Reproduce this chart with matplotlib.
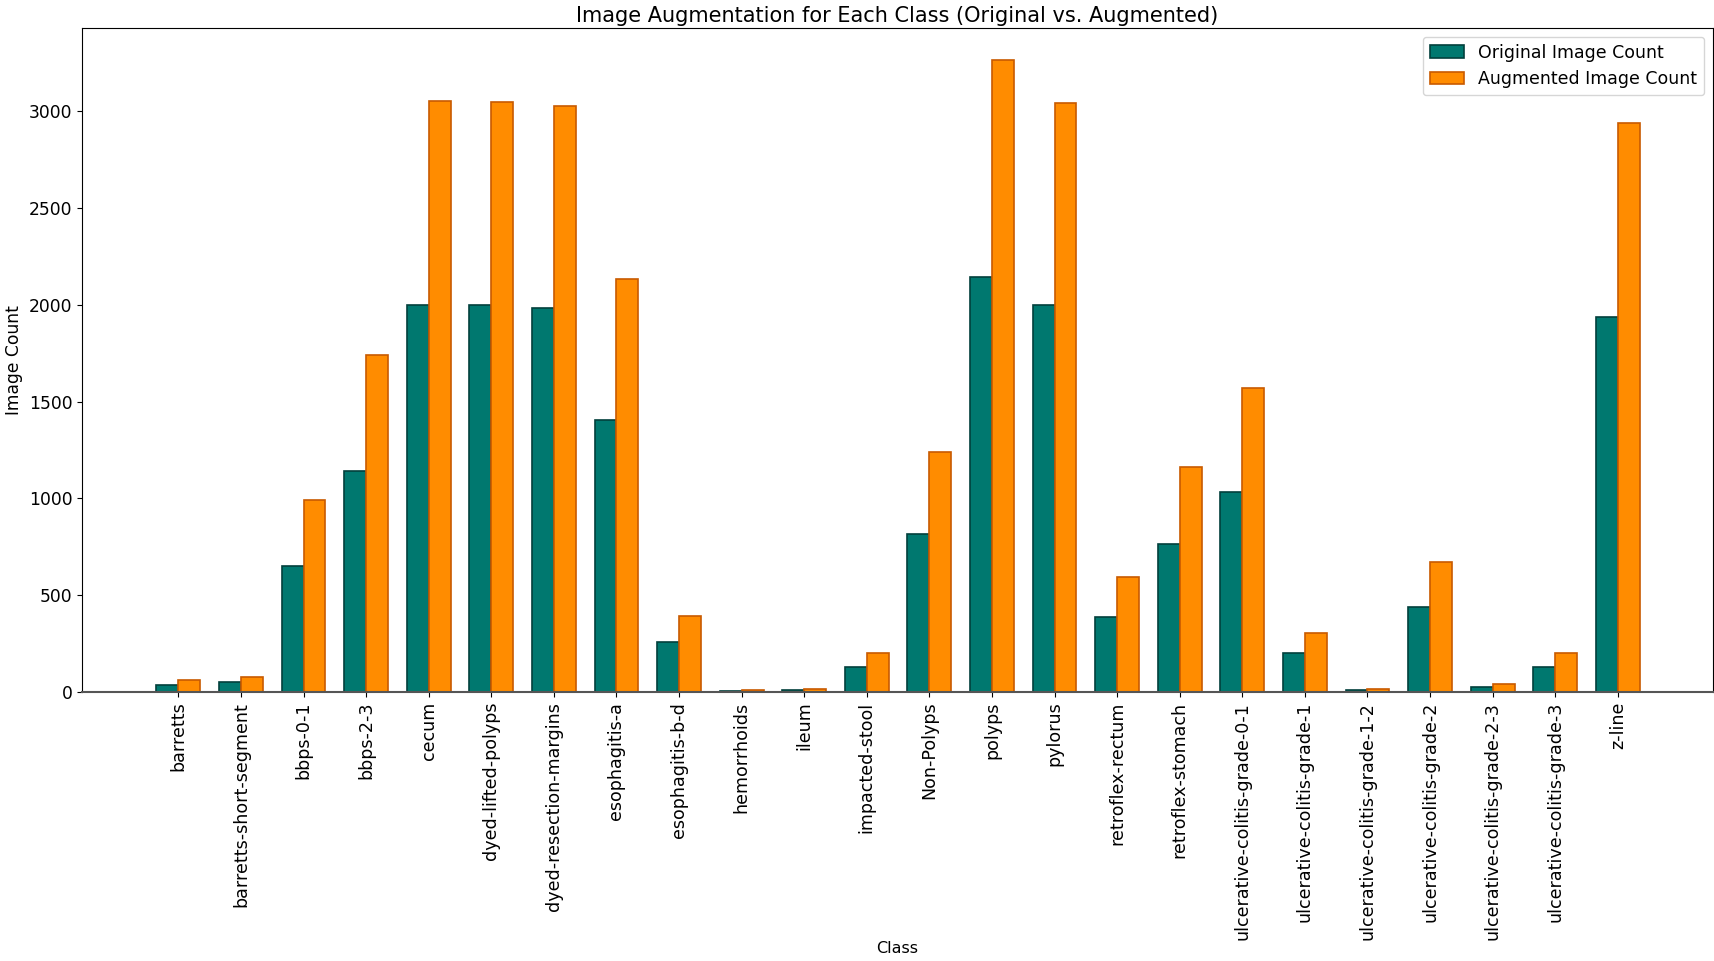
import numpy as np
import matplotlib.pyplot as plt

classes = ['barretts', 'barretts-short-segment', 'bbps-0-1', 'bbps-2-3', 'cecum',
           'dyed-lifted-polyps', 'dyed-resection-margins', 'esophagitis-a',
           'esophagitis-b-d', 'hemorrhoids', 'ileum', 'impacted-stool', 'Non-Polyps',
           'polyps', 'pylorus', 'retroflex-rectum', 'retroflex-stomach',
           'ulcerative-colitis-grade-0-1', 'ulcerative-colitis-grade-1',
           'ulcerative-colitis-grade-1-2', 'ulcerative-colitis-grade-2',
           'ulcerative-colitis-grade-2-3', 'ulcerative-colitis-grade-3', 'z-line']

original_counts = [38, 53, 651, 1143, 2000, 2000, 1981, 1404, 257, 6, 9, 131, 815,
                   2145, 2000, 388, 764, 1033, 201, 11, 440, 28, 131, 1936]
augmented_counts = [62, 75, 990, 1743, 3052, 3045, 3025, 2134, 390, 10, 13, 199, 1240,
                    3266, 3040, 594, 1162, 1568, 305, 16, 670, 40, 200, 2938]

x = np.arange(len(classes))
width = 0.35

fig = plt.figure(figsize=(17.15, 9.61), dpi=100)
ax = fig.add_axes([0.0478, 0.2799, 0.951, 0.691])

ax.bar(x - width / 2, original_counts, width, color='#00786f', edgecolor='#02403c',
       linewidth=1.2, label='Original Image Count')
ax.bar(x + width / 2, augmented_counts, width, color='#ff8c00', edgecolor='#c85a00',
       linewidth=1.2, label='Augmented Image Count')

ax.set_xlim(-1.54, 24.52)
ax.set_xticks(x)
ax.set_xticklabels(classes, rotation=90, fontsize=12.6)
ax.tick_params(axis='y', labelsize=12.3)
ax.set_xlabel('Class', fontsize=11.5, labelpad=1)
ax.set_ylabel('Image Count', fontsize=12.3, labelpad=4)
ax.set_title('Image Augmentation for Each Class (Original vs. Augmented)', fontsize=15, pad=4)
ax.legend(loc='upper right', fontsize=12.5)
ax.spines['bottom'].set_color('#555555')
ax.spines['bottom'].set_linewidth(1.5)

fig.savefig('out.png', dpi=100)
plt.close()
